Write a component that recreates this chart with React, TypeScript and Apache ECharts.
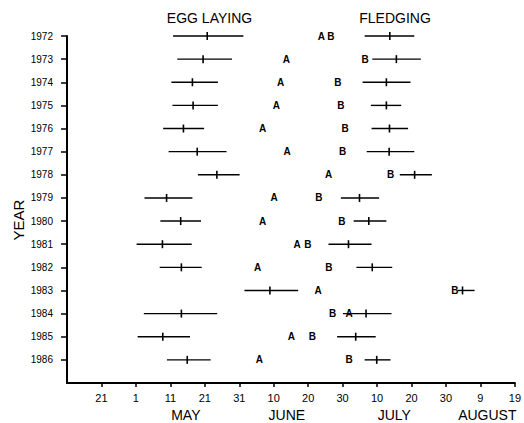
import React, { useEffect, useRef } from "react";
import * as echarts from "echarts";

// Day-of-year values (Apr 11 = 101, Aug 19 = 231)
const years = [1972, 1973, 1974, 1975, 1976, 1977, 1978, 1979, 1980, 1981, 1982, 1983, 1984, 1985, 1986];
const eggStart = [131.8, 133.0, 131.3, 131.6, 128.9, 130.5, 139.0, 123.5, 128.1, 121.2, 127.9, 152.5, 123.3, 121.5, 130.0];
const eggEnd = [152.2, 148.9, 144.8, 144.8, 140.8, 147.3, 151.1, 137.4, 139.9, 137.2, 140.1, 168.1, 144.6, 136.7, 142.7];
const eggMean = [141.7, 140.5, 137.4, 137.6, 134.8, 138.8, 144.5, 129.9, 134.0, 128.7, 134.2, 159.9, 134.2, 128.8, 135.9];
const fledgeStart = [187.4, 189.6, 186.8, 189.2, 189.4, 188.0, 197.6, 180.5, 184.2, 176.9, 185.0, 214.4, 181.1, 179.4, 187.4];
const fledgeEnd = [201.8, 203.7, 200.7, 198.0, 200.0, 201.8, 206.9, 191.6, 193.7, 189.4, 195.4, 219.3, 195.2, 190.6, 194.9];
const fledgeMean = [194.7, 196.6, 193.7, 193.7, 194.6, 194.5, 201.9, 185.9, 188.6, 182.7, 189.6, 215.8, 187.8, 184.8, 190.9];
const dateA = [174.8, 164.7, 163.0, 161.8, 157.8, 164.9, 176.9, 161.1, 157.8, 167.8, 156.3, 173.9, 182.9, 166.1, 156.8];
const dateB = [177.6, 187.5, 179.6, 180.5, 181.7, 181.0, 194.9, 174.1, 180.8, 170.9, 177.0, 213.6, 178.1, 172.2, 182.9];

const xTickValues = [111, 121, 131, 141, 151, 161, 171, 181, 191, 201, 211, 221, 231];
const xTickLabels = ["21", "1", "11", "21", "31", "10", "20", "30", "10", "20", "30", "9", "19"];
const monthNames = ["MAY", "JUNE", "JULY", "AUGUST"];
const monthCenters = [135.5, 164.8, 196, 223];

const FONT = "'Liberation Sans', Arial, Helvetica, sans-serif";

function rangeRender(params: any, api: any) {
  const y = api.value(0);
  const p1 = api.coord([api.value(1), y]);
  const p2 = api.coord([api.value(2), y]);
  const pm = api.coord([api.value(3), y]);
  return {
    type: "group",
    children: [
      { type: "line", shape: { x1: p1[0], y1: p1[1], x2: p2[0], y2: p2[1] }, style: { stroke: "#000", lineWidth: 1.4 } },
      { type: "line", shape: { x1: pm[0], y1: pm[1] - 4, x2: pm[0], y2: pm[1] + 4 }, style: { stroke: "#000", lineWidth: 1.6 } },
    ],
  };
}

function letterRender(letter: string) {
  return (params: any, api: any) => {
    const p = api.coord([api.value(0), api.value(1)]);
    return {
      type: "text",
      x: p[0],
      y: p[1],
      style: { text: letter, fontSize: 10, fontWeight: "bold", fontFamily: FONT, fill: "#000", align: "center", verticalAlign: "middle" },
    };
  };
}

export default function App() {
  const ref = useRef<HTMLDivElement>(null);
  useEffect(() => {
    if (!ref.current) return;
    const chart = echarts.init(ref.current, undefined, { renderer: "svg" });
    const eggData = years.map((y, i) => [y, eggStart[i], eggEnd[i], eggMean[i]]);
    const fledgeData = years.map((y, i) => [y, fledgeStart[i], fledgeEnd[i], fledgeMean[i]]);
    const aData = years.map((y, i) => [dateA[i], y]);
    const bData = years.map((y, i) => [dateB[i], y]);
    const monthData = monthCenters.map((d) => [d, 1987]);
    chart.setOption({
      animation: false,
      grid: { left: 67, right: 5, top: 36, bottom: 40 },
      xAxis: {
        type: "value",
        min: 101,
        max: 231,
        interval: 10,
        axisLine: { show: true, lineStyle: { color: "#000", width: 2 } },
        axisTick: { show: true, length: 4, lineStyle: { color: "#000", width: 1.5 }, customValues: xTickValues },
        axisLabel: {
          customValues: xTickValues,
          formatter: (v: number) => xTickLabels[Math.round((v - 111) / 10)] ?? "",
          color: "#000",
          fontSize: 11,
          fontFamily: FONT,
          margin: 9,
        },
        splitLine: { show: false },
      },
      yAxis: {
        type: "value",
        inverse: true,
        min: 1972,
        max: 1987,
        interval: 1,
        axisLine: { show: true, lineStyle: { color: "#000", width: 2 } },
        axisTick: { show: true, length: 6, lineStyle: { color: "#000", width: 1.5 }, customValues: years },
        axisLabel: {
          customValues: years,
          formatter: (v: number) => String(v),
          color: "#000",
          fontSize: 10,
          fontFamily: FONT,
          margin: 14,
        },
        splitLine: { show: false },
      },
      graphic: [
        { type: "text", x: 209.5, y: 18, style: { text: "EGG LAYING", fontSize: 14, fontFamily: FONT, fill: "#000", align: "center", verticalAlign: "middle" } },
        { type: "text", x: 395, y: 18, style: { text: "FLEDGING", fontSize: 14, fontFamily: FONT, fill: "#000", align: "center", verticalAlign: "middle" } },
        { type: "text", x: 18, y: 220, rotation: Math.PI / 2, style: { text: "YEAR", fontSize: 15, fontFamily: FONT, fill: "#000", align: "center", verticalAlign: "middle" } },
      ],
      series: [
        { type: "custom", name: "egg", data: eggData, encode: { x: [1, 2, 3], y: 0 }, renderItem: rangeRender },
        { type: "custom", name: "fledge", data: fledgeData, encode: { x: [1, 2, 3], y: 0 }, renderItem: rangeRender },
        { type: "custom", name: "A", data: aData, encode: { x: 0, y: 1 }, renderItem: letterRender("A") },
        { type: "custom", name: "B", data: bData, encode: { x: 0, y: 1 }, renderItem: letterRender("B") },
        {
          type: "custom",
          name: "months",
          data: monthData,
          encode: { x: 0, y: 1 },
          clip: false,
          renderItem: (params: any, api: any) => {
            const p = api.coord([api.value(0), api.value(1)]);
            return {
              type: "text",
              x: p[0],
              y: p[1] + 32,
              style: { text: monthNames[params.dataIndex], fontSize: 14, fontFamily: FONT, fill: "#000", align: "center", verticalAlign: "middle" },
            };
          },
        },
      ],
    });
    return () => chart.dispose();
  }, []);
  return <div ref={ref} style={{ width: 524, height: 423, position: "absolute", left: 0, top: 0 }} />;
}
